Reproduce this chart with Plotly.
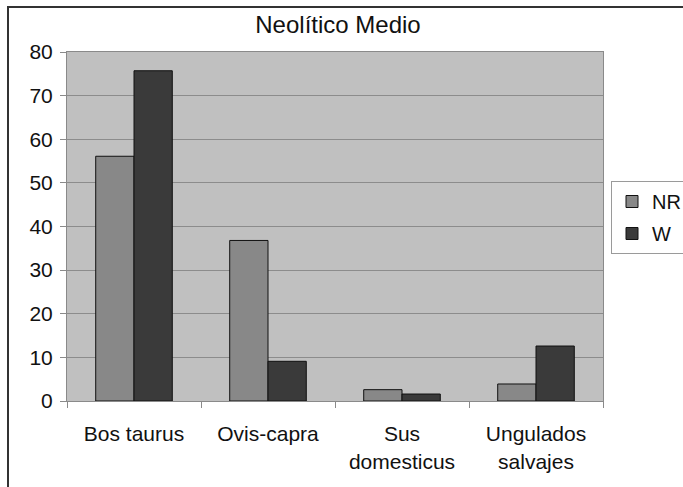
import plotly.graph_objects as go

# Neolítico Medio: share of remains per taxon (NR vs W)
categories = ["Bos taurus", "Ovis-capra", "Sus<br>domesticus", "Ungulados<br>salvajes"]
nr_values = [56.1, 36.8, 2.6, 3.9]
w_values = [75.7, 9.1, 1.6, 12.6]
y_ticks = [0, 10, 20, 30, 40, 50, 60, 70, 80]

FONT = "Liberation Sans, Arial, sans-serif"

fig = go.Figure()
fig.add_trace(go.Bar(
    name="NR", x=categories, y=nr_values, legendgroup="nr",
    marker=dict(color="#888888", line=dict(color="#111111", width=1)),
))
fig.add_trace(go.Bar(
    name="W", x=categories, y=w_values, legendgroup="w",
    marker=dict(color="#3a3a3a", line=dict(color="#111111", width=1)),
))

W, H = 683, 487
L, R, T, B = 67, 80, 52, 86
pw, ph = W - L - R, H - T - B

def px_x(x):
    return (x - L) / pw

def px_y(y):
    return 1 - (y - T) / ph

fig.update_layout(
    width=W, height=H,
    margin=dict(l=L, r=R, t=T, b=B, pad=0, autoexpand=False),
    paper_bgcolor="white",
    plot_bgcolor="#c0c0c0",
    barmode="group",
    bargap=1.5 / 3.5,
    bargroupgap=0,
    font=dict(family=FONT, size=21, color="#111111"),
    title=dict(
        text="Neolítico Medio",
        font=dict(family=FONT, size=24, color="#111111"),
        x=338 / W, xref="container", xanchor="center",
        y=1 - 25 / H, yref="container", yanchor="middle",
    ),
    legend=dict(
        x=px_x(611), xanchor="left",
        y=px_y(181), yanchor="top",
        bgcolor="white",
        bordercolor="#9a9a9a", borderwidth=1,
        font=dict(family=FONT, size=20, color="#111111"),
        traceorder="grouped",
        tracegroupgap=3,
        itemwidth=30,
    ),
    showlegend=True,
    xaxis=dict(
        type="category",
        showgrid=False,
        showline=True, linecolor="#8a8a8a", linewidth=1,
        mirror=True,
        ticks="outside", tickson="boundaries", ticklen=6, tickcolor="#8a8a8a",
        ticklabelstandoff=14,
        tickfont=dict(family=FONT, size=21, color="#111111"),
        fixedrange=True,
    ),
    yaxis=dict(
        range=[0, 80],
        tickvals=y_ticks,
        showgrid=True, gridcolor="#8c8c8c", gridwidth=1,
        showline=True, linecolor="#8a8a8a", linewidth=1,
        mirror=True,
        ticks="outside", ticklen=6, tickcolor="#8a8a8a",
        ticklabelstandoff=3,
        tickfont=dict(family=FONT, size=21, color="#111111"),
        zeroline=False,
        fixedrange=True,
    ),
    shapes=[
        # chart-area frame, running off the right and bottom edges
        dict(type="rect", xref="paper", yref="paper",
             x0=px_x(8), x1=px_x(W + 20), y0=px_y(H + 20), y1=px_y(7),
             line=dict(color="#333333", width=2), fillcolor="rgba(0,0,0,0)",
             layer="below"),
    ],
)

fig.write_html("out.html", config={"displayModeBar": False})
